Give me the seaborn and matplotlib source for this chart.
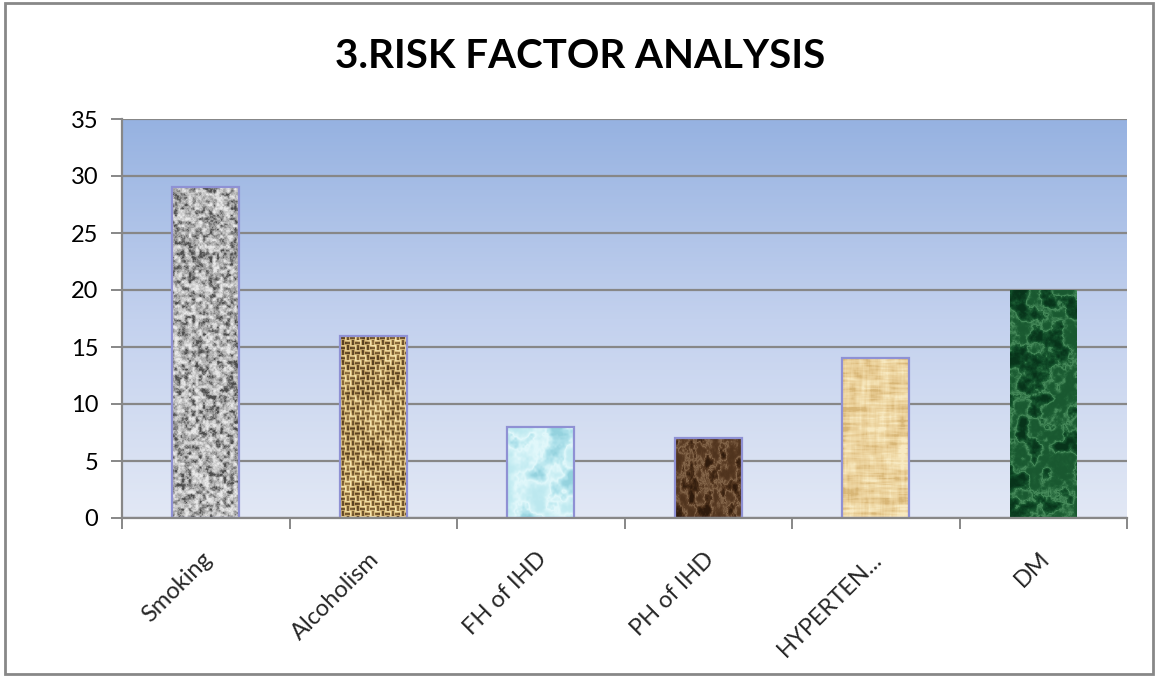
import numpy as np
import pandas as pd
import matplotlib
matplotlib.use("Agg")
import matplotlib.pyplot as plt
import matplotlib.transforms as mtransforms
import seaborn as sns
from matplotlib.colors import LinearSegmentedColormap
from matplotlib.patches import Rectangle

# Data
categories = ["Smoking", "Alcoholism", "FH of IHD", "PH of IHD", "HYPERTEN...", "DM"]
values = [29, 16, 8, 7, 14, 20]
y_ticks = [0, 5, 10, 15, 20, 25, 30, 35]

sns.set_theme(style="white")
plt.rcParams["font.family"] = ["Lato", "DejaVu Sans"]

df = pd.DataFrame({"factor": categories, "count": values})

W, H, DPI = 1155, 677, 100
fig = plt.figure(figsize=(W / DPI, H / DPI), dpi=DPI, facecolor="white")
ax = fig.add_axes([122 / W, 1 - 518 / H, (1127 - 122) / W, (518 - 119) / H])

sns.barplot(data=df, x="factor", y="count", ax=ax, width=0.4,
            color="#888888", saturation=1, zorder=2)

ax.set_ylim(0, 35)
ax.set_xlim(-0.5, len(categories) - 0.5)
ax.set_yticks(y_ticks)
ax.set_xlabel("")
ax.set_ylabel("")

# Gradient plot-area background
grad = np.linspace(0, 1, 256).reshape(-1, 1)
bg_cmap = LinearSegmentedColormap.from_list("bg", ["#e2e8f5", "#c3d1ee", "#96b2e1"])
ax.imshow(grad, cmap=bg_cmap, extent=[0, 1, 0, 1], transform=ax.transAxes,
          aspect="auto", origin="lower", zorder=-1, interpolation="bilinear")
ax.set_facecolor("none")

# Grid and axes styling
ax.set_axisbelow(True)
ax.yaxis.grid(True, color="#878787", linewidth=1.6)
ax.xaxis.grid(False)
for side in ["top", "right"]:
    ax.spines[side].set_visible(False)
for side in ["left", "bottom"]:
    ax.spines[side].set_color("#878787")
    ax.spines[side].set_linewidth(1.6)

ax.tick_params(axis="y", which="major", direction="out", length=8, width=1.4,
               color="#878787", labelsize=17, labelcolor="black", pad=9, left=True)
ax.set_xticks(np.arange(len(categories)))
ax.set_xticklabels(categories, rotation=45, ha="right", va="center",
                   rotation_mode="anchor", fontsize=17)
ax.tick_params(axis="x", which="major", length=0, pad=27, bottom=True)
shift = mtransforms.ScaledTranslation(3 / DPI, 0, fig.dpi_scale_trans)
for lbl in ax.get_xticklabels():
    lbl.set_transform(lbl.get_transform() + shift)

# Category boundary ticks below the x axis
ax.set_xticks(np.arange(-0.5, len(categories)), minor=True)
ax.tick_params(axis="x", which="minor", direction="out", length=8, width=1.4,
               color="#878787", bottom=True)


# Procedural textures for the bar fills
def hash2(i, j, seed):
    v = np.sin(i * 127.1 + j * 311.7 + seed * 74.7) * 43758.5453
    return v - np.floor(v)


def value_noise(h, w, cy, cx, seed):
    ys = np.arange(h) / cy
    xs = np.arange(w) / cx
    y0 = np.floor(ys)
    x0 = np.floor(xs)
    fy = ys - y0
    fx = xs - x0
    fy = fy * fy * (3 - 2 * fy)
    fx = fx * fx * (3 - 2 * fx)
    Y0, X0 = np.meshgrid(y0, x0, indexing="ij")
    FY, FX = np.meshgrid(fy, fx, indexing="ij")
    a = hash2(Y0, X0, seed)
    b = hash2(Y0, X0 + 1, seed)
    c = hash2(Y0 + 1, X0, seed)
    d = hash2(Y0 + 1, X0 + 1, seed)
    return (a * (1 - FX) + b * FX) * (1 - FY) + (c * (1 - FX) + d * FX) * FY


def fbm(h, w, cy, cx, seed, octaves=4):
    total = np.zeros((h, w))
    amp, norm = 1.0, 0.0
    for k in range(octaves):
        total += amp * value_noise(h, w, max(cy / 2 ** k, 0.6), max(cx / 2 ** k, 0.6), seed + k * 13)
        norm += amp
        amp *= 0.5
    return total / norm


def stretch(a):
    lo, hi = np.percentile(a, 2), np.percentile(a, 98)
    return np.clip((a - lo) / (hi - lo + 1e-9), 0, 1)


def granite(h, w):
    n = stretch(fbm(h, w, 3.5, 3.5, 1, 4))
    return n, LinearSegmentedColormap.from_list("g", ["#4e4e4e", "#9a9a9a", "#c8c8c8", "#e8e8e8"])


def burlap(h, w):
    yy, xx = np.mgrid[0:h, 0:w]
    blk = 5
    by, bx = yy // blk, xx // blk
    horiz = ((by + bx) % 2 == 0)
    strand_h = 0.5 + 0.5 * np.cos(2 * np.pi * (yy % blk) / blk)
    strand_v = 0.5 + 0.5 * np.cos(2 * np.pi * (xx % blk) / blk)
    weave = np.where(horiz, strand_h, strand_v)
    n = fbm(h, w, 8, 8, 5, 3)
    return stretch(0.75 * weave + 0.45 * n), LinearSegmentedColormap.from_list(
        "b", ["#5a4020", "#a4824a", "#d6b878", "#f6e6b0"])


def water(h, w):
    n = fbm(h, w, 16, 16, 9, 4)
    ridge = 1 - np.abs(n - 0.5) * 2
    return stretch(0.5 * ridge ** 2 + 0.6 * n), LinearSegmentedColormap.from_list(
        "w", ["#94d2de", "#ace0ea", "#c4ecf2", "#e2f8fb"])


def leather(h, w):
    n = fbm(h, w, 12, 8, 21, 5)
    ridge = 1 - np.abs(n - 0.5) * 2
    return stretch(0.5 * ridge ** 3 + 0.6 * n), LinearSegmentedColormap.from_list(
        "l", ["#2e1a0c", "#442a16", "#5c3e26", "#84664a"])


def papyrus(h, w):
    fh = fbm(h, w, 2.5, 30, 31, 3)
    fv = fbm(h, w, 30, 3, 37, 3)
    n = fbm(h, w, 10, 10, 41, 3)
    return stretch(0.5 * fh + 0.3 * fv + 0.4 * n), LinearSegmentedColormap.from_list(
        "p", ["#d8b676", "#e8cc94", "#f0daa8", "#f8eac2"])


def marble(h, w):
    n = fbm(h, w, 12, 12, 51, 5)
    ridge = 1 - np.abs(n - 0.5) * 2
    return stretch(0.4 * ridge ** 4 + 0.6 * n), LinearSegmentedColormap.from_list(
        "m", ["#07331a", "#0f4826", "#1d5e34", "#468a5a"])


textures = [granite, burlap, water, leather, papyrus, marble]
edge_colors = ["#8f91d4", "#8f91d4", "#8f91d4", "#8f91d4", "#8f91d4", None]

fig.canvas.draw()
bars = list(ax.patches)
for bar, tex, ec in zip(bars, textures, edge_colors):
    ext = bar.get_window_extent()
    pw = max(int(round(ext.width)), 2)
    ph = max(int(round(ext.height)), 2)
    img, cmap = tex(ph, pw)
    x0 = bar.get_x()
    x1 = x0 + bar.get_width()
    top = bar.get_height()
    im = ax.imshow(img, cmap=cmap, extent=[x0, x1, 0, top], aspect="auto",
                   origin="upper", zorder=2.1, interpolation="bilinear")
    im.set_clip_path(bar)
    if ec is not None:
        ax.add_patch(Rectangle((x0, 0), bar.get_width(), top, facecolor="none",
                               edgecolor=ec, linewidth=1.6, zorder=2.2))
    bar.set_edgecolor("none")

ax.set_xlim(-0.5, len(categories) - 0.5)
ax.set_ylim(0, 35)

fig.text(580 / W, 1 - 56 / H, "3.RISK FACTOR ANALYSIS", ha="center", va="center",
         fontsize=29, fontweight="bold", color="black")

# Outer chart frame
fig.patches.append(Rectangle((5 / W, 3 / H), 1 - 7 / W, 1 - 6 / H, transform=fig.transFigure,
                             facecolor="none", edgecolor="#888888", linewidth=2))

fig.savefig("out.png", dpi=DPI, facecolor="white")
